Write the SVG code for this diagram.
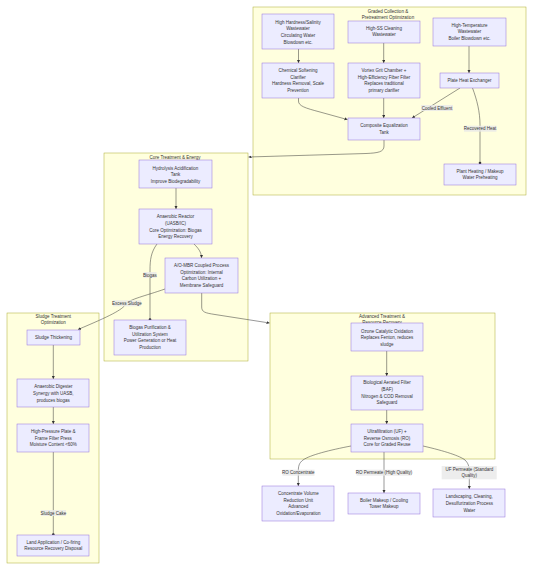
<svg xmlns="http://www.w3.org/2000/svg" width="533" height="571" viewBox="0 0 533 571">
<defs>
<style>
.cl{fill:#ffffde;stroke:#aaaa33;stroke-width:0.5}
.nd rect{fill:#ECECFF;stroke:#9370DB;stroke-width:0.5}
text{font-family:"Liberation Sans",Arial,sans-serif;font-size:4.5px;fill:#333;text-anchor:middle}
.e{fill:none;stroke:#333;stroke-width:0.5}
.lb{fill:rgba(232,232,232,0.8)}
</style>
<marker id="ar" markerUnits="userSpaceOnUse" markerWidth="4" markerHeight="4" refX="3" refY="1.5" orient="auto"><path d="M0,0 L3,1.5 L0,3 z" fill="#333"/></marker>
<marker id="ci" markerUnits="userSpaceOnUse" markerWidth="4" markerHeight="4" refX="1.6" refY="1.6" orient="auto"><circle cx="1.6" cy="1.6" r="1.3" fill="#333"/></marker>
</defs>
<rect width="533" height="571" fill="#fff"/>
<g id="clusters">
<g id="cl-graded"><rect class="cl" x="253" y="7" width="273" height="188"/><text x="388" y="12.6">Graded Collection &amp;</text><text x="388" y="19.2">Pretreatment Optimization</text></g>
<g id="cl-core"><rect class="cl" x="104" y="153" width="144" height="208"/><text x="175" y="158.6">Core Treatment &amp; Energy</text></g>
<g id="cl-sludge"><rect class="cl" x="7" y="313" width="92" height="250"/><text x="53.3" y="317.6">Sludge Treatment</text><text x="53.3" y="324.4">Optimization</text></g>
<g id="cl-adv"><rect class="cl" x="270" y="313" width="225" height="146"/><text x="382" y="317.6">Advanced Treatment &amp;</text><text x="382" y="324.3">Resource Recovery</text></g>
</g>
<g id="connectors">
<path class="e" d="M298.5,49 L298.5,63" marker-end="url(#ar)"/>
<path class="e" d="M383.7,43 L383.7,63" marker-end="url(#ar)"/>
<path class="e" d="M469,46 L469,73" marker-end="url(#ar)"/>
<path class="e" d="M298.5,98 L298.5,101 C298.5,106 305,108 320,112 L347.5,119.6" marker-end="url(#ar)"/>
<path class="e" d="M383.7,98 L383.7,118" marker-end="url(#ar)"/>
<path class="e" d="M460,88 L412,118" marker-end="url(#ar)"/>
<path class="e" d="M472.5,88 C477,100 480,112 480,125 L480,163" marker-end="url(#ci)"/>
<path class="e" d="M384,140 L384,146 C384,152 378,153 366,153.5 L248.5,157" marker-end="url(#ar)"/>
<path class="e" d="M176,188 L176,209" marker-end="url(#ar)"/>
<path class="e" d="M194,244 C198,248 201.5,252 201.5,258" marker-end="url(#ar)"/>
<path class="e" d="M157,244 C151,252 150,260 150,270 L150,319.5" marker-end="url(#ci)"/>
<path class="e" d="M165,289 C145,296 130,299 126,304 C122,310 110,316 78,329.5" marker-end="url(#ar)"/>
<path class="e" d="M201.7,293 L201.7,307 C201.7,312 205,313 215,314.5 L269.5,323" marker-end="url(#ar)"/>
<path class="e" d="M53.3,345 L53.3,379" marker-end="url(#ar)"/>
<path class="e" d="M53.3,407 L53.3,424" marker-end="url(#ar)"/>
<path class="e" d="M53.3,452 L53.3,534.5" marker-end="url(#ci)"/>
<path class="e" d="M386.7,351 L386.7,376" marker-end="url(#ar)"/>
<path class="e" d="M386.7,410 L386.7,424" marker-end="url(#ar)"/>
<path class="e" d="M351,446 C330,450 310,455 303,460 C299,463 298.3,466 298.3,472 L298.3,486" marker-end="url(#ar)"/>
<path class="e" d="M384,452 L384,493" marker-end="url(#ar)"/>
<path class="e" d="M423,446 C445,451 460,456 465,460 C468,463 469.3,466 469.3,472 L469.3,489" marker-end="url(#ar)"/>
<g id="edge-labels">
<rect class="lb" x="421" y="105" width="32" height="6"/><text x="437" y="109.6">Cooled Effluent</text>
<rect class="lb" x="464" y="125.7" width="32.5" height="6"/><text x="480" y="130.3">Recovered Heat</text>
<rect class="lb" x="143.5" y="272" width="13" height="6"/><text x="150" y="276.6">Biogas</text>
<rect class="lb" x="113" y="300.3" width="28" height="6"/><text x="127" y="304.9">Excess Sludge</text>
<rect class="lb" x="41" y="510" width="25" height="6"/><text x="53.3" y="514.6">Sludge Cake</text>
<rect class="lb" x="282.5" y="469.7" width="32" height="6"/><text x="298.3" y="474.3">RO Concentrate</text>
<rect class="lb" x="356.5" y="469.7" width="55" height="6"/><text x="384" y="474.3">RO Permeate (High Quality)</text>
<rect class="lb" x="441.7" y="466" width="55" height="13.3"/><text x="469.3" y="470.6">UF Permeate (Standard</text><text x="469.3" y="477.3">Quality)</text>
</g>
</g>
<g id="n-a1" class="nd"><rect x="262" y="14" width="72" height="35"/><text x="298" y="23.6">High Hardness/Salinity</text><text x="298" y="30.3">Wastewater</text><text x="298" y="36.9">Circulating Water</text><text x="298" y="43.6">Blowdown etc.</text></g>
<g id="n-a2" class="nd"><rect x="348" y="21" width="72" height="22"/><text x="384" y="29.6">High-SS Cleaning</text><text x="384" y="36.3">Wastewater</text></g>
<g id="n-a3" class="nd"><rect x="433" y="18" width="73" height="28"/><text x="469.5" y="26.6">High-Temperature</text><text x="469.5" y="33.3">Wastewater</text><text x="469.5" y="39.9">Boiler Blowdown etc.</text></g>
<g id="n-b1" class="nd"><rect x="262" y="63" width="72" height="35"/><text x="298" y="71.9">Chemical Softening</text><text x="298" y="78.6">Clarifier</text><text x="298" y="85.3">Hardness Removal, Scale</text><text x="298" y="91.9">Prevention</text></g>
<g id="n-b2" class="nd"><rect x="348" y="63" width="72" height="35"/><text x="384" y="71.9">Vortex Grit Chamber +</text><text x="384" y="78.6">High-Efficiency Fiber Filter</text><text x="384" y="85.3">Replaces traditional</text><text x="384" y="91.9">primary clarifier</text></g>
<g id="n-b3" class="nd"><rect x="440" y="73" width="59" height="15"/><text x="469.5" y="81.9">Plate Heat Exchanger</text></g>
<g id="n-c" class="nd"><rect x="348" y="118" width="72" height="22"/><text x="384" y="127.3">Composite Equalization</text><text x="384" y="133.9">Tank</text></g>
<g id="n-d" class="nd"><rect x="444" y="164" width="72" height="21"/><text x="480" y="172.6">Plant Heating / Makeup</text><text x="480" y="179.3">Water Preheating</text></g>
<g id="n-e" class="nd"><rect x="139" y="160" width="73" height="28"/><text x="175.5" y="169.6">Hydrolysis Acidification</text><text x="175.5" y="176.3">Tank</text><text x="175.5" y="182.9">Improve Biodegradability</text></g>
<g id="n-f" class="nd"><rect x="139" y="209" width="73" height="35"/><text x="175.5" y="218.3">Anaerobic Reactor</text><text x="175.5" y="224.9">(UASB/IC)</text><text x="175.5" y="231.6">Core Optimization: Biogas</text><text x="175.5" y="238.3">Energy Recovery</text></g>
<g id="n-g" class="nd"><rect x="165" y="258" width="73" height="35"/><text x="201.5" y="266.9">A/O-MBR Coupled Process</text><text x="201.5" y="273.6">Optimization: Internal</text><text x="201.5" y="280.3">Carbon Utilization +</text><text x="201.5" y="286.9">Membrane Safeguard</text></g>
<g id="n-h" class="nd"><rect x="114" y="320" width="72" height="35"/><text x="150" y="328.9">Biogas Purification &amp;</text><text x="150" y="335.6">Utilization System</text><text x="150" y="342.3">Power Generation or Heat</text><text x="150" y="348.9">Production</text></g>
<g id="n-i" class="nd"><rect x="27" y="330" width="53" height="15"/><text x="53.5" y="338.9">Sludge Thickening</text></g>
<g id="n-j" class="nd"><rect x="17" y="379" width="72" height="28"/><text x="53.3" y="388.3">Anaerobic Digester</text><text x="53.3" y="394.9">Synergy with UASB,</text><text x="53.3" y="401.6">produces biogas</text></g>
<g id="n-k" class="nd"><rect x="17" y="424" width="72" height="28"/><text x="53.3" y="432.9">High-Pressure Plate &amp;</text><text x="53.3" y="439.6">Frame Filter Press</text><text x="53.3" y="446.3">Moisture Content &lt;60%</text></g>
<g id="n-l" class="nd"><rect x="17" y="535" width="72" height="21"/><text x="53.3" y="543.6">Land Application / Co-firing</text><text x="53.3" y="550.3">Resource Recovery Disposal</text></g>
<g id="n-m" class="nd"><rect x="351" y="323" width="72" height="28"/><text x="387" y="332.6">Ozone Catalytic Oxidation</text><text x="387" y="339.3">Replaces Fenton, reduces</text><text x="387" y="345.9">sludge</text></g>
<g id="n-n" class="nd"><rect x="351" y="376" width="72" height="34"/><text x="387" y="384.3">Biological Aerated Filter</text><text x="387" y="390.9">(BAF)</text><text x="387" y="397.6">Nitrogen &amp; COD Removal</text><text x="387" y="404.3">Safeguard</text></g>
<g id="n-o" class="nd"><rect x="351" y="424" width="72" height="28"/><text x="387" y="432.9">Ultrafiltration (UF) +</text><text x="387" y="439.6">Reverse Osmosis (RO)</text><text x="387" y="446.3">Core for Graded Reuse</text></g>
<g id="n-p" class="nd"><rect x="262" y="486" width="72" height="35"/><text x="298.3" y="494.9">Concentrate Volume</text><text x="298.3" y="501.6">Reduction Unit</text><text x="298.3" y="508.3">Advanced</text><text x="298.3" y="514.9">Oxidation/Evaporation</text></g>
<g id="n-q" class="nd"><rect x="348" y="493" width="72" height="21"/><text x="384" y="501.6">Boiler Makeup / Cooling</text><text x="384" y="508.3">Tower Makeup</text></g>
<g id="n-r" class="nd"><rect x="433" y="489" width="72" height="28"/><text x="469.3" y="498.3">Landscaping, Cleaning,</text><text x="469.3" y="504.9">Desulfurization Process</text><text x="469.3" y="511.6">Water</text></g>
</svg>
